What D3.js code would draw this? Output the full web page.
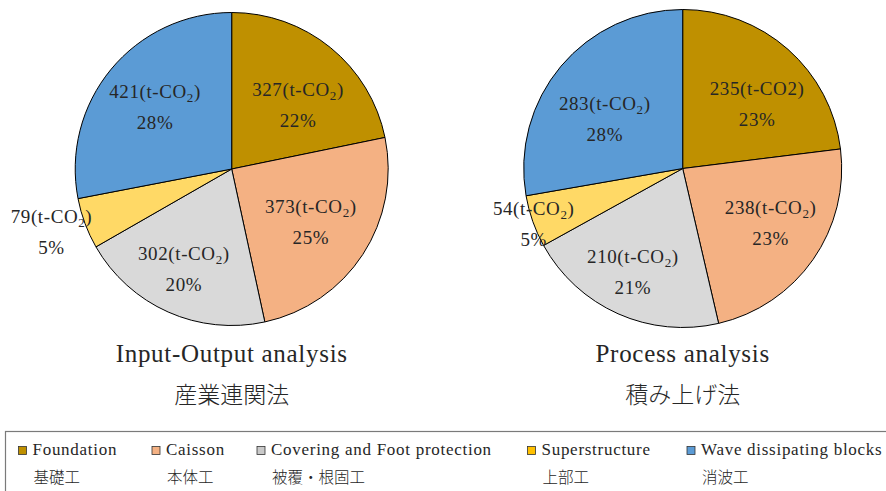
<!DOCTYPE html>
<html>
<head>
<meta charset="utf-8">
<script src="https://cdn.jsdelivr.net/npm/d3@7"></script>
<style>
  html, body { margin: 0; padding: 0; background: #fff; }
  svg { display: block; }
  text { font-family: "Liberation Serif", "Noto Sans CJK JP", serif; fill: #262626; }
  .cjk { font-family: "Noto Sans CJK JP", sans-serif; }
</style>
</head>
<body>
<svg id="chart" width="886" height="491"></svg>
<script>
// Work categories (English / Japanese)
const categories = ["Foundation", "Caisson", "Covering and Foot protection", "Superstructure", "Wave dissipating blocks"];
const categoriesJa = ["基礎工", "本体工", "被覆・根固工", "上部工", "消波工"];

// CO2 emissions (t-CO2) by method
const inputOutputValues = [327, 373, 302, 79, 421];
const processValues = [235, 238, 210, 54, 283];

// Unit written after each value
const inputOutputUnits = ["t-CO₂", "t-CO₂", "t-CO₂", "t-CO₂", "t-CO₂"];
const processUnits = ["t-CO2", "t-CO₂", "t-CO₂", "t-CO₂", "t-CO₂"];

// Chart titles
const inputOutputTitle = ["Input-Output analysis", "産業連関法"];
const processTitle = ["Process analysis", "積み上げ法"];

// Slice and legend colours
const sliceColors = ["#bf9000", "#f4b183", "#d9d9d9", "#ffd966", "#5b9bd5"];
const legendColors = ["#bf9000", "#f4b183", "#c9c9c9", "#ffc000", "#5b9bd5"];

const svg = d3.select("#chart");

// Pie layouts: centre, radius and label placement (angle in degrees from 12 o'clock, radius factor)
const pies = [
  {
    values: inputOutputValues, units: inputOutputUnits, title: inputOutputTitle,
    cx: 231.7, cy: 169, r: 156.5,
    labels: [[45.9, 0.59], [124, 0.61], [205.5, 0.71], [250.7, 1.22], [309, 0.63]]
  },
  {
    values: processValues, units: processUnits, title: processTitle,
    cx: 682.7, cy: 168.5, r: 159,
    labels: [[49, 0.62], [121.7, 0.65], [205.8, 0.72], [249.6, 1.0], [302.3, 0.58]]
  }
];

const pieGen = d3.pie().sort(null).value(d => d.value);

pies.forEach(p => {
  const data = categories.map((c, i) => ({ name: c, value: p.values[i], unit: p.units[i], i }));
  const total = d3.sum(p.values);
  const arcs = pieGen(data);
  const arc = d3.arc().innerRadius(0).outerRadius(p.r);

  const g = svg.append("g").attr("transform", `translate(${p.cx},${p.cy})`);

  g.selectAll("path.slice")
    .data(arcs)
    .join("path")
    .attr("class", "slice")
    .attr("d", arc)
    .attr("fill", d => sliceColors[d.data.i])
    .attr("stroke", "#000")
    .attr("stroke-width", 1)
    .attr("stroke-linejoin", "round");

  // Value and share labels
  const lbl = g.selectAll("g.lbl")
    .data(arcs)
    .join("g")
    .attr("class", "lbl")
    .attr("transform", d => {
      const [deg, f] = p.labels[d.data.i];
      const a = deg * Math.PI / 180;
      return `translate(${Math.sin(a) * p.r * f},${-Math.cos(a) * p.r * f})`;
    });

  lbl.each(function (d) {
    const t = d3.select(this).append("text")
      .attr("text-anchor", "middle")
      .attr("y", -9)
      .style("font-size", "19px")
      .style("letter-spacing", "0.6px");
    const unit = d.data.unit;
    if (unit.endsWith("₂")) {
      t.append("tspan").text(`${d.data.value}(${unit.slice(0, -1)}`);
      t.append("tspan").attr("dy", 4).style("font-size", "13px").text("2");
      t.append("tspan").attr("dy", -4).text(")");
    } else {
      t.text(`${d.data.value}(${unit})`);
    }
    d3.select(this).append("text")
      .attr("text-anchor", "middle")
      .attr("y", 22)
      .style("font-size", "19px")
      .style("letter-spacing", "0.6px")
      .text(`${Math.round(d.data.value / total * 100)}%`);
  });

  // Titles beneath each pie
  svg.append("text")
    .attr("x", p.cx).attr("y", 362)
    .attr("text-anchor", "middle")
    .style("font-size", "25px")
    .style("letter-spacing", "0.7px")
    .text(p.title[0]);
  svg.append("text")
    .attr("class", "cjk")
    .attr("x", p.cx).attr("y", 403)
    .attr("text-anchor", "middle")
    .style("font-size", "23px")
    .style("font-weight", 300)
    .text(p.title[1]);
});

// Legend
const legend = svg.append("g");
legend.append("rect")
  .attr("x", 5.5).attr("y", 431.5)
  .attr("width", 900).attr("height", 80)
  .attr("fill", "#fff")
  .attr("stroke", "#7a7a7a")
  .attr("stroke-width", 1.2);

const legendPos = [18.5, 152, 257, 527.5, 687];

const items = legend.selectAll("g.item")
  .data(categories)
  .join("g")
  .attr("class", "item")
  .attr("transform", (d, i) => `translate(${legendPos[i]},0)`);

items.append("rect")
  .attr("x", 0).attr("y", 446.5)
  .attr("width", 8).attr("height", 8)
  .attr("fill", (d, i) => legendColors[i])
  .attr("stroke", "#333")
  .attr("stroke-width", 0.8);

items.append("text")
  .attr("x", 14).attr("y", 455)
  .style("font-size", "17px")
  .style("letter-spacing", "0.72px")
  .text(d => d);

items.append("text")
  .attr("class", "cjk")
  .attr("x", 15).attr("y", 483)
  .style("font-size", "15.5px")
  .style("font-weight", 300)
  .text((d, i) => categoriesJa[i]);
</script>
</body>
</html>
